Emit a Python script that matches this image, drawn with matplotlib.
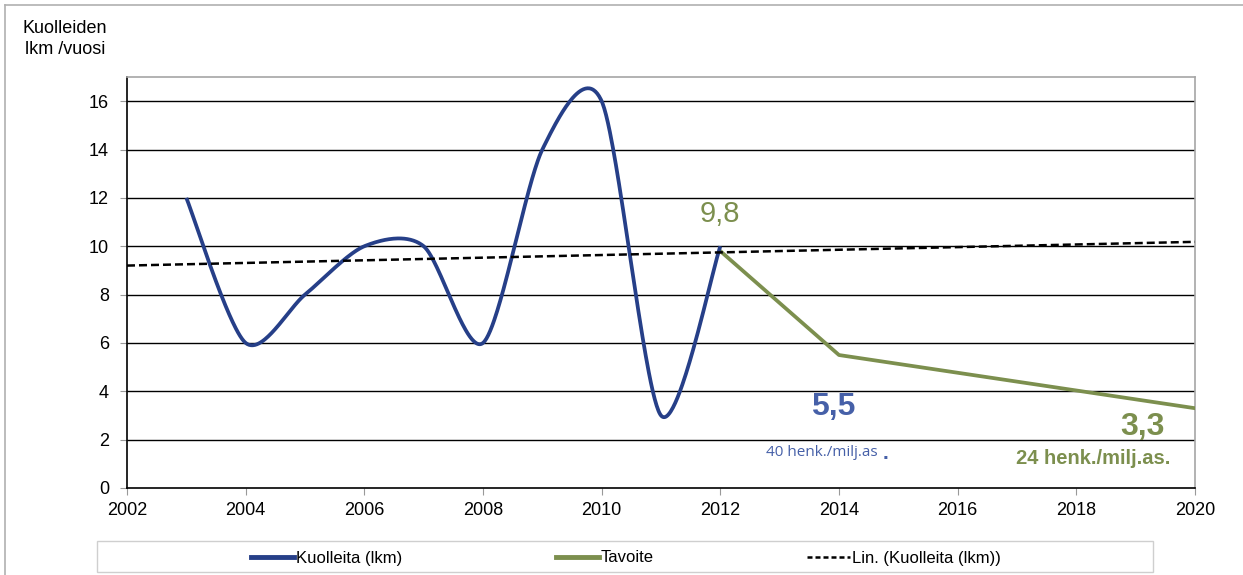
import numpy as np
import matplotlib
matplotlib.use("Agg")
import matplotlib.pyplot as plt
from matplotlib.patches import Rectangle
from matplotlib.lines import Line2D

plt.rcParams["font.family"] = ["Liberation Sans", "DejaVu Sans"]

# Fatalities per year
years = [2003, 2004, 2005, 2006, 2007, 2008, 2009, 2010, 2011, 2012]
deaths = [12, 6, 8, 10, 10, 6, 14, 16, 3, 10]

# Target path
target_years = [2012, 2014, 2020]
target_values = [9.8, 5.5, 3.3]

# Trend line span (forecast backward 1 year and forward 8 years)
trend_span = [2002, 2020]

y_ticks = [0, 2, 4, 6, 8, 10, 12, 14, 16]
x_ticks = [2002, 2004, 2006, 2008, 2010, 2012, 2014, 2016, 2018, 2020]

BLUE = "#263f88"
GREEN = "#7c8f4e"
LABEL_BLUE = "#4660a8"


def smooth_curve(xs, ys, k=0.14, n=60):
    """Bezier-smoothed path through the points (Catmull-Rom style control points)."""
    pts = np.column_stack([xs, ys]).astype(float)
    m = len(pts)
    out = []
    for i in range(m - 1):
        p0 = pts[i - 1] if i > 0 else pts[i]
        p1 = pts[i]
        p2 = pts[i + 1]
        p3 = pts[i + 2] if i + 2 < m else pts[i + 1]
        c1 = p1 + (p2 - p0) * k
        c2 = p2 - (p3 - p1) * k
        t = np.linspace(0, 1, n)[:, None]
        seg = ((1 - t) ** 3) * p1 + 3 * ((1 - t) ** 2) * t * c1 + 3 * (1 - t) * t ** 2 * c2 + t ** 3 * p2
        out.append(seg if i == 0 else seg[1:])
    path = np.vstack(out)
    return path[:, 0], path[:, 1]


fig = plt.figure(figsize=(12.43, 5.75), dpi=100)
ax = fig.add_axes([127 / 1243, 1 - 488 / 575, (1195 - 127) / 1243, (488 - 77) / 575])

# gridlines
for yv in y_ticks[1:]:
    ax.axhline(yv, color="black", lw=1.0, zorder=1)

sx, sy = smooth_curve(years, deaths)
ax.plot(sx, sy, color=BLUE, lw=2.7, solid_capstyle="butt", zorder=4)

ax.plot(target_years, target_values, color=GREEN, lw=2.7, zorder=3)

slope, intercept = np.polyfit(years, deaths, 1)
tx = np.array(trend_span, dtype=float)
ax.plot(tx, slope * tx + intercept, color="black", lw=1.8, ls=(0, (3.2, 1.6)), zorder=5)

ax.set_xlim(2002, 2020)
ax.set_ylim(0, 17)
ax.set_xticks(x_ticks)
ax.set_yticks(y_ticks)
ax.tick_params(axis="both", labelsize=13, colors="black", length=5, width=0.8)
ax.tick_params(axis="x", pad=5, color="#999999")
ax.tick_params(axis="y", pad=8, color="#999999")
for s in ("top", "right"):
    ax.spines[s].set_color("#a6a6a6")
    ax.spines[s].set_linewidth(1.2)
for s in ("left", "bottom"):
    ax.spines[s].set_color("black")
    ax.spines[s].set_linewidth(1.2)

# value annotations
ax.text(2012.0, 11.35, "9,8", color=GREEN, fontsize=21, ha="center", va="center")
ax.text(2013.9, 3.35, "5,5", color=LABEL_BLUE, fontsize=23, fontweight="bold", ha="center", va="center")
ax.text(2013.71, 1.45, "40 henk./milj.as", color=LABEL_BLUE, fontsize=11, ha="center", va="center",
        family=["Open Sans", "DejaVu Sans"])
ax.text(2014.74, 1.05, ".", color=LABEL_BLUE, fontsize=15, fontweight="bold", ha="left", va="bottom")
ax.text(2019.12, 2.52, "3,3", color=GREEN, fontsize=23, fontweight="bold", ha="center", va="center")
ax.text(2018.28, 1.24, "24 henk./milj.as.", color=GREEN, fontsize=14.5, fontweight="bold",
        ha="center", va="center")

# axis title
fig.text(65 / 1243, 1 - 39 / 575, "Kuolleiden\nlkm /vuosi", fontsize=13, ha="center", va="center",
         linespacing=1.35)

# outer frame (top and left edges)
fig.add_artist(Line2D([5 / 1243, 1], [1 - 5 / 575, 1 - 5 / 575], transform=fig.transFigure,
                      color="#b0b0b0", lw=1.2))
fig.add_artist(Line2D([5 / 1243, 5 / 1243], [0, 1 - 5 / 575], transform=fig.transFigure,
                      color="#b0b0b0", lw=1.2))

# legend box
fig.add_artist(Rectangle((97 / 1243, 3 / 575), (1153 - 97) / 1243, (572 - 541) / 575,
                         transform=fig.transFigure, fill=False, edgecolor="#cfcfcf", lw=1.0))
handles = [
    Line2D([], [], color=BLUE, lw=3.5),
    Line2D([], [], color=GREEN, lw=3.5),
    Line2D([], [], color="black", lw=1.8, ls=(0, (2, 1.2))),
]
labels = ["Kuolleita (lkm)", "Tavoite", "Lin. (Kuolleita (lkm))"]
fig.legend(handles, labels, loc="center", bbox_to_anchor=(626 / 1243, 1 - 558 / 575),
           ncol=3, frameon=False, fontsize=12, handlelength=2.6, handletextpad=0.1,
           columnspacing=9.2, borderpad=0)

fig.savefig("out.png", dpi=100)
